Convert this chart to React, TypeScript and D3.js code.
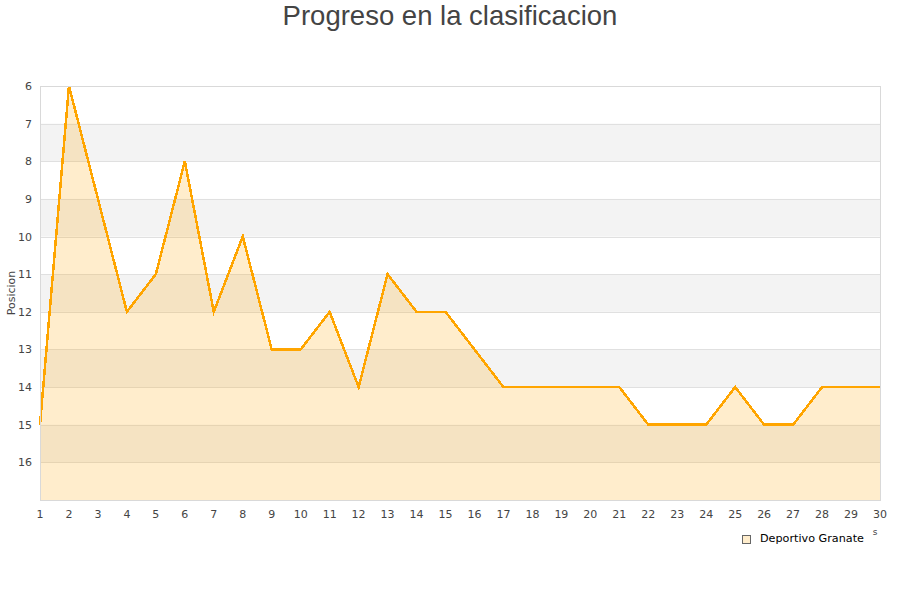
import * as React from "react";
import * as d3 from "d3";

const jornadas: number[] = d3.range(1, 31);
const posiciones: number[] = [
  15, 6, 9, 12, 11, 8, 12, 10, 13, 13,
  12, 14, 11, 12, 12, 13, 14, 14, 14, 14,
  14, 15, 15, 15, 14, 15, 15, 14, 14, 14,
];
const yTicks: number[] = [6, 7, 8, 9, 10, 11, 12, 13, 14, 15, 16];
const titulo = "Progreso en la clasificacion";
const equipo = "Deportivo Granate";

const W = 900;
const H = 600;
const left = 40;
const right = 880;
const top = 86;
const bottom = 500;

const App = () => {
  const x = d3.scaleLinear().domain([1, 30]).range([left, right]);
  const y = d3.scaleLinear().domain([6, 17]).range([top, bottom]);

  const pts: [number, number][] = jornadas.map((j, i) => [j, posiciones[i]]);

  const line = d3.line<[number, number]>()
    .x(d => x(d[0]))
    .y(d => y(d[1]));
  const area = d3.area<[number, number]>()
    .x(d => x(d[0]))
    .y0(y(17))
    .y1(d => y(d[1]));

  // franjas alternas
  const bands = yTicks.filter(t => t % 2 === 1);

  const font = "'DejaVu Sans', Verdana, sans-serif";

  return (
    <svg width={W} height={H} style={{ position: "absolute", left: 0, top: 0, background: "#fff" }}>
      <text x={W / 2} y={25} textAnchor="middle" fontFamily="'Liberation Sans', Arial, sans-serif"
        fontSize={27.5} fill="#444">{titulo}</text>

      {bands.map(b => (
        <rect key={b} x={left} y={y(b)} width={right - left} height={y(b + 1) - y(b)} fill="#f3f3f3" />
      ))}
      {yTicks.map(t => (
        <line key={t} x1={left} x2={right} y1={Math.round(y(t)) + 0.5} y2={Math.round(y(t)) + 0.5}
          stroke="#e0e0e0" strokeWidth={1} />
      ))}

      <path d={area(pts) || ""} fill="rgba(255,165,0,0.2)" />
      <path d={line(pts) || ""} fill="none" stroke="#ffa500" strokeWidth={2.5}
        strokeLinejoin="miter" shapeRendering="crispEdges" />

      <rect x={left + 0.5} y={top + 0.5} width={right - left} height={bottom - top}
        fill="none" stroke="#d9d9d9" strokeWidth={1} />

      {yTicks.map(t => (
        <text key={t} x={32} y={y(t) + 4} textAnchor="end" fontFamily={font} fontSize={11} fill="#444">{t}</text>
      ))}
      {jornadas.map(j => (
        <text key={j} x={x(j)} y={518} textAnchor="middle" fontFamily={font} fontSize={11} fill="#444">{j}</text>
      ))}

      <text transform={`translate(15,${(top + bottom) / 2}) rotate(-90)`} textAnchor="middle"
        fontFamily={font} fontSize={11} fill="#444">Posicion</text>
      <text x={875} y={535} textAnchor="middle" fontFamily={font} fontSize={9} fill="#444">s</text>

      <rect x={742.5} y={535.5} width={8} height={8} fill="#ffedcc" stroke="#666" strokeWidth={1} />
      <text x={760} y={542} fontFamily={font} fontSize={11.2} fill="#000">{equipo}</text>
    </svg>
  );
};

export default App;
